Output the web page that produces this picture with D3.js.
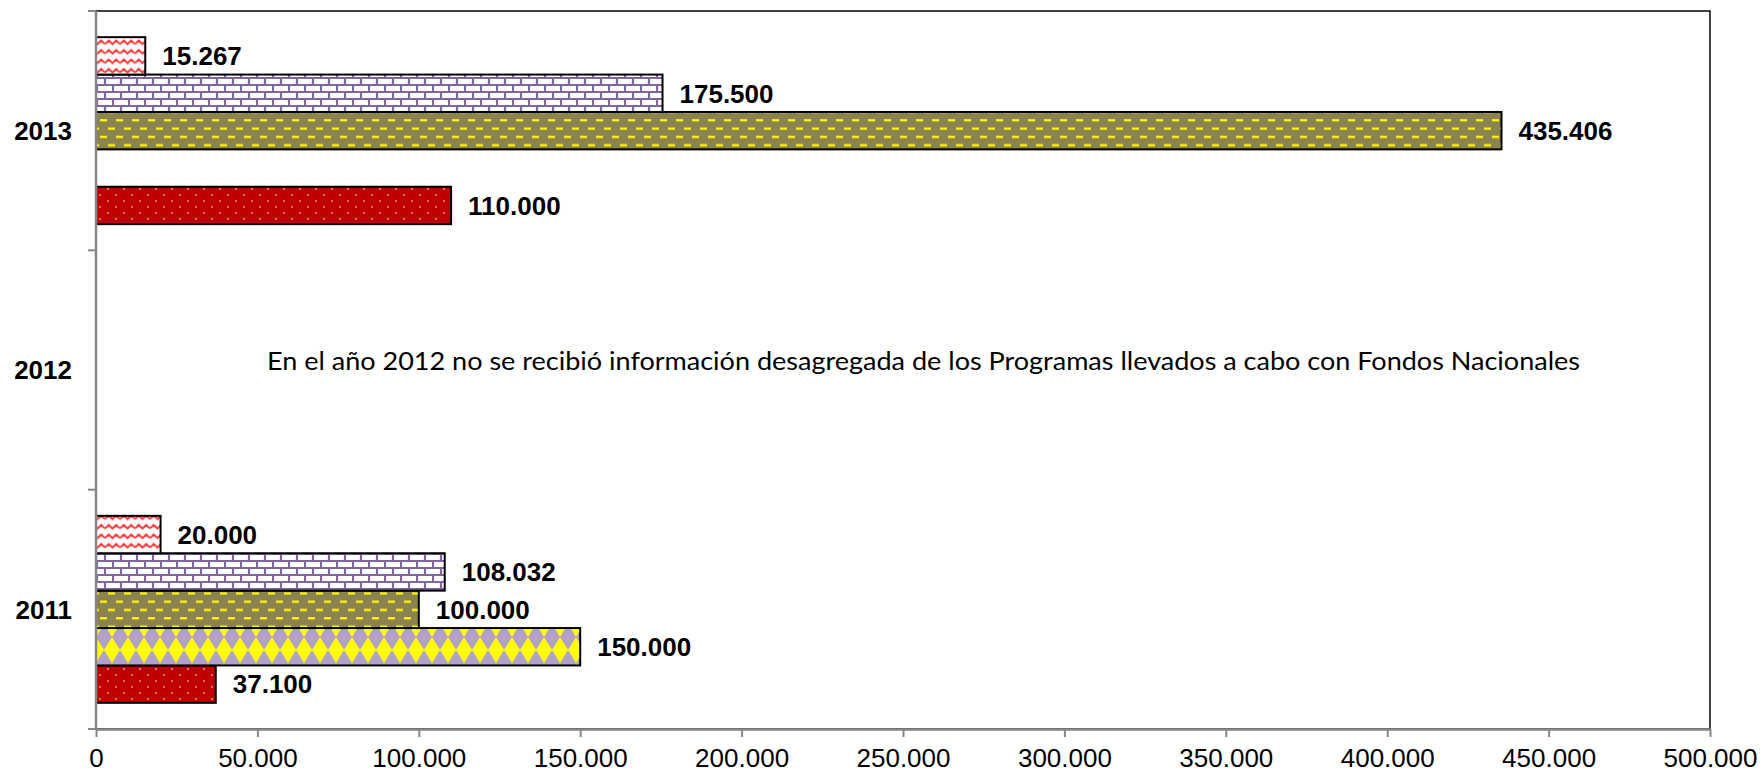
<!DOCTYPE html>
<html>
<head>
<meta charset="utf-8">
<script src="https://cdn.jsdelivr.net/npm/d3@7"></script>
<style>
  body { margin: 0; background: #fff; }
  svg { display: block; }
</style>
</head>
<body>
<script>
// data
const categories = ['2011', '2012', '2013']
const serie1 = [37100, null, 110000]   // rojo punteado
const serie2 = [150000, null, null]    // rombos
const serie3 = [100000, null, 435406]  // oliva con guiones
const serie4 = [108032, null, 175500]  // ladrillos
const serie5 = [20000, null, 15267]    // ondas
const seriesNames = ['s1', 's2', 's3', 's4', 's5']
const xTicks = [0, 50000, 100000, 150000, 200000, 250000, 300000, 350000, 400000, 450000, 500000]
const note = 'En el año 2012 no se recibió información desagregada de los Programas llevados a cabo con Fondos Nacionales'

{
    let width = 1762
    let height = 773
    let left = 96, right = 1710, top = 11, bottom = 729
    let font = "'Liberation Sans', Arial, sans-serif"

    let svg = d3.select('body').append('svg')
        .attr('width', width)
        .attr('height', height)

    let loc = d3.formatLocale({decimal: ',', thousands: '.', grouping: [3], currency: ['', '']})
    let fmt = loc.format(',')

    // patterns
    let defs = svg.append('defs')

    let p1 = defs.append('pattern').attr('id', 'p-s1').attr('patternUnits', 'userSpaceOnUse')
        .attr('width', 16).attr('height', 12)
    p1.append('rect').attr('width', 16).attr('height', 12).attr('fill', '#c00000')
    p1.append('rect').attr('x', 3).attr('y', 2).attr('width', 2).attr('height', 2).attr('fill', '#e57070')
    p1.append('rect').attr('x', 11).attr('y', 8).attr('width', 2).attr('height', 2).attr('fill', '#e57070')

    let p2 = defs.append('pattern').attr('id', 'p-s2').attr('patternUnits', 'userSpaceOnUse')
        .attr('width', 16).attr('height', 26)
    p2.append('rect').attr('width', 16).attr('height', 26).attr('fill', '#ffff00')
    p2.append('polygon').attr('points', '8,0 16,13 8,26 0,13').attr('fill', '#b1a0c7')

    let p3 = defs.append('pattern').attr('id', 'p-s3').attr('patternUnits', 'userSpaceOnUse')
        .attr('width', 16).attr('height', 16.6)
    p3.append('rect').attr('width', 16).attr('height', 16.6).attr('fill', '#8c8450')
    p3.append('rect').attr('x', 4).attr('y', 3).attr('width', 7).attr('height', 2.2).attr('fill', '#ffff00')
    p3.append('rect').attr('x', 12).attr('y', 11.3).attr('width', 7).attr('height', 2.2).attr('fill', '#ffff00')
    p3.append('rect').attr('x', -4).attr('y', 11.3).attr('width', 7).attr('height', 2.2).attr('fill', '#ffff00')

    let p4 = defs.append('pattern').attr('id', 'p-s4').attr('patternUnits', 'userSpaceOnUse')
        .attr('width', 16).attr('height', 14)
    p4.append('rect').attr('width', 16).attr('height', 14).attr('fill', '#ffffff')
    p4.append('path')
        .attr('d', 'M0,1 H16 M0,8 H16 M1,1 V8 M9,8 V14')
        .attr('stroke', '#7f66a0').attr('stroke-width', 2.2).attr('fill', 'none')

    let p5 = defs.append('pattern').attr('id', 'p-s5').attr('patternUnits', 'userSpaceOnUse')
        .attr('width', 15).attr('height', 9.5)
    p5.append('rect').attr('width', 15).attr('height', 9.5).attr('fill', '#ffffff')
    p5.append('path')
        .attr('d', 'M0,6 L3.75,2.5 L7.5,6 L11.25,2.5 L15,6')
        .attr('stroke', '#ff3b3b').attr('stroke-width', 2).attr('fill', 'none')

    // scales
    let x = d3.scaleLinear().domain([0, 500000]).range([left, right])
    let y = d3.scaleBand().domain(categories).range([bottom, top]).padding(0)
    let ys = d3.scaleBand().domain(seriesNames.slice().reverse())
        .range([0, y.bandwidth()]).paddingInner(0).paddingOuter(0.7)

    // frame
    svg.append('rect')
        .attr('x', left).attr('y', top)
        .attr('width', right - left).attr('height', bottom - top)
        .attr('fill', 'none').attr('stroke', '#000').attr('stroke-width', 1.5)

    // bars
    let allSeries = [serie1, serie2, serie3, serie4, serie5]
    let rows = []
    allSeries.forEach((vals, si) => {
        vals.forEach((v, ci) => {
            if (v != null) rows.push({s: seriesNames[si], cat: categories[ci], v: v})
        })
    })

    svg.append('g').selectAll('rect').data(rows)
        .enter()
        .append('rect')
        .attr('x', x(0))
        .attr('y', d => y(d.cat) + ys(d.s))
        .attr('width', d => x(d.v) - x(0))
        .attr('height', ys.bandwidth())
        .attr('fill', d => 'url(#p-' + d.s + ')')
        .attr('stroke', '#000')
        .attr('stroke-width', 2)

    svg.append('g').selectAll('text').data(rows)
        .enter()
        .append('text')
        .attr('x', d => x(d.v) + 17)
        .attr('y', d => y(d.cat) + ys(d.s) + ys.bandwidth() / 2)
        .attr('dy', '0.36em')
        .style('font-family', font)
        .attr('font-weight', 'bold')
        .attr('font-size', 26)
        .attr('fill', '#000')
        .text(d => fmt(d.v))

    // x axis
    let xAxis = svg.append('g')
        .attr('transform', `translate(0,${bottom})`)
        .call(d3.axisBottom(x).tickValues(xTicks).tickFormat(fmt).tickSize(8).tickSizeOuter(0).tickPadding(12))
    xAxis.select('.domain').attr('stroke', '#868686').attr('stroke-width', 2.5)
    xAxis.selectAll('.tick line').attr('stroke', '#868686').attr('stroke-width', 2)
    xAxis.selectAll('.tick text')
        .style('font-family', font)
        .attr('font-size', 26)
        .attr('fill', '#000')

    // y axis
    let yAxis = svg.append('g')
        .attr('transform', `translate(${left},0)`)
        .call(d3.axisLeft(y).tickSize(0).tickPadding(24))
    yAxis.select('.domain').remove()
    yAxis.selectAll('.tick text')
        .style('font-family', font)
        .attr('font-weight', 'bold')
        .attr('font-size', 26)
        .attr('fill', '#000')
        .attr('dy', '0.36em')

    let edges = [bottom].concat(categories.map(c => y(c)))
    svg.append('line')
        .attr('x1', left).attr('x2', left)
        .attr('y1', top).attr('y2', bottom)
        .attr('stroke', '#868686').attr('stroke-width', 2.5)
    svg.append('g').selectAll('line').data(edges)
        .enter()
        .append('line')
        .attr('x1', left - 8).attr('x2', left)
        .attr('y1', d => d).attr('y2', d => d)
        .attr('stroke', '#868686').attr('stroke-width', 2)

    // note for 2012
    svg.append('text')
        .attr('x', 267)
        .attr('y', 370)
        .style('font-family', "Lato, 'Open Sans', sans-serif")
        .attr('font-size', 25)
        .attr('fill', '#000')
        .attr('textLength', 1313)
        .attr('lengthAdjust', 'spacingAndGlyphs')
        .text(note)
}
</script>
</body>
</html>
